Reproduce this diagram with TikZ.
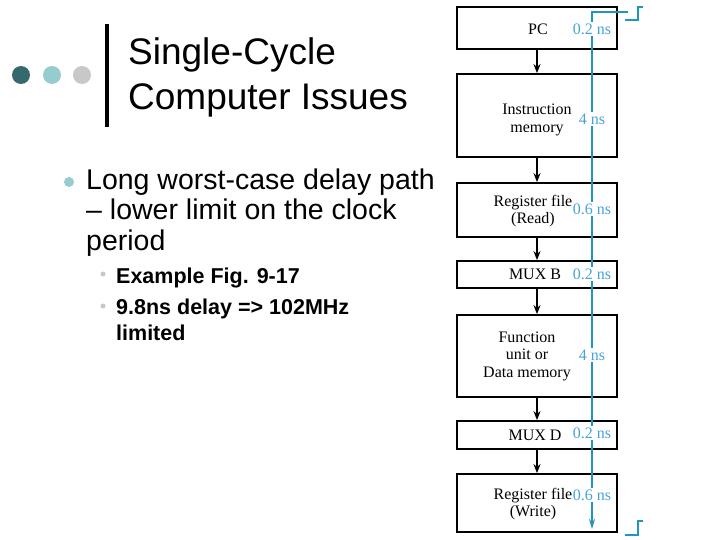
\documentclass[tikz,border=0pt]{standalone}
\usepackage{fontspec}
\setmainfont{Liberation Serif}
\newfontfamily\slidefont{Liberation Sans}
\usetikzlibrary{positioning,arrows.meta,calc}
\definecolor{dotdark}{RGB}{53,105,110}
\definecolor{dotteal}{RGB}{150,204,208}
\definecolor{dotgray}{RGB}{200,200,200}
\definecolor{clkblue}{RGB}{30,150,190}
\definecolor{nsblue}{RGB}{70,165,215}
\tikzset{
  stage/.style={draw=black, line width=1.8pt, minimum width=160pt, inner sep=0pt},
  stagetxt/.style={font=\fontsize{16}{17.5}\selectfont, align=center, inner sep=0pt},
  flow/.style={line width=1.6pt, -{Stealth[length=9pt,width=7pt]}},
  clk/.style={draw=clkblue, line width=1.8pt},
  delay/.style={text=nsblue, fill=white, font=\fontsize{16}{17.5}\selectfont,
    inner xsep=0pt, inner ysep=2pt},
  slide/.style={anchor=base west, align=left, inner sep=0pt}
}
\begin{document}
\begin{tikzpicture}[x=1pt,y=-1pt]
  \useasboundingbox (0,0) rectangle (720,540);

  % heading (base = last line)
  \fill[dotdark] (21,75) circle (9pt);
  \fill[dotteal] (52,75) circle (9pt);
  \fill[dotgray] (82,75) circle (9pt);
  \draw[line width=3.5pt] (107,24) -- (107,127);
  \node[slide, font=\slidefont\fontsize{37}{45}\selectfont] (title) at (128,110)
    {Single-Cycle\\Computer Issues};

  % bullets
  \fill[dotteal] (69,182) circle (5pt);
  \node[slide, font=\slidefont\fontsize{28.5}{30}\selectfont] (point) at (86,250)
    {Long worst-case delay path\\– lower limit on the clock\\period};
  \fill[dotgray] (103,274) circle (2.5pt);
  \fill[dotgray] (103,306) circle (2.5pt);
  \node[slide, font=\slidefont\bfseries\fontsize{21.5}{26}\selectfont] (fig) at (116,283)
    {Example Fig. 9-17};
  \node[slide, font=\slidefont\bfseries\fontsize{21.5}{26}\selectfont] (limit) at (116,340)
    {9.8ns delay => 102MHz\\limited};

  % datapath stages
  \node[stage, minimum height=42pt] (pc) at (537,28) {};
  \node[stage, minimum height=83pt] (imem) at (537,115.5) {};
  \node[stage, minimum height=54pt] (rfread) at (537,210) {};
  \node[stage, minimum height=27pt] (muxb) at (537,274.5) {};
  \node[stage, minimum height=82pt] (func) at (537,356) {};
  \node[stage, minimum height=28pt] (muxd) at (537,435) {};
  \node[stage, minimum height=58pt] (rfwrite) at (537,503) {};

  \node[stagetxt] (pctxt) at (538,29) {PC};
  \node[stagetxt] (imemtxt) at (537,120) {Instruction\\memory};
  \node[stagetxt] (rfreadtxt) at (533,211) {Register file\\(Read)};
  \node[stagetxt] (muxbtxt) at (535,274) {MUX B};
  \node[stagetxt] (functxt) at (527,356) {Function\\unit or\\Data memory};
  \node[stagetxt] (muxdtxt) at (535,435) {MUX D};
  \node[stagetxt] (rfwritetxt) at (533,504) {Register file\\(Write)};

  \draw[flow] (pc.south) -- (imem.north);
  \draw[flow] (imem.south) -- (rfread.north);
  \draw[flow] (rfread.south) -- (muxb.north);
  \draw[flow] (muxb.south) -- (func.north);
  \draw[flow] (func.south) -- (muxd.north);
  \draw[flow] (muxd.south) -- (rfwrite.north);

  % critical path timing
  \coordinate (tick) at (628,12);
  \coordinate (ctop) at (592,12);
  \coordinate (cbot) at (592,529);
  \draw[clk, -{Stealth[length=10pt,width=6pt]}] (tick) -- (ctop) -- (cbot);
  \draw[clk] (625,20) -- (638,20) -- (638,7) -- (643,7);
  \draw[clk] (625,535) -- (638,535) -- (638,521) -- (643,521);

  \node[delay] (dpc) at (592,29) {0.2 ns};
  \node[delay] (dimem) at (592,119) {4 ns};
  \node[delay] (drfread) at (592,209) {0.6 ns};
  \node[delay] (dmuxb) at (592,274) {0.2 ns};
  \node[delay] (dfunc) at (592,355) {4 ns};
  \node[delay] (dmuxd) at (592,433) {0.2 ns};
  \node[delay] (drfwrite) at (592,495) {0.6 ns};
\end{tikzpicture}
\end{document}
